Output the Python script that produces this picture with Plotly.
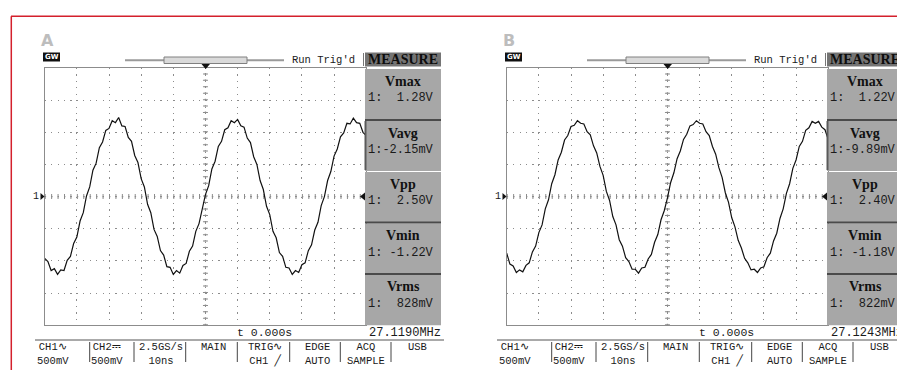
import plotly.graph_objects as go

W, H = 905, 370

# sample clock of the scope: 1 ns per point, 10 ns/div, trigger at the centre
t_ns = list(range(-50, 51))

# CH1 trace, volts (noise included)
ch1_a = [
    -0.96, -1.01, -1.15, -1.12, -1.21, -1.14, -1.15, -0.99, -0.93, -0.73,
    -0.63, -0.38, -0.25, 0.01, 0.15, 0.41, 0.52, 0.76, 0.85, 1.03,
    1.06, 1.18, 1.15, 1.23, 1.10, 1.09, 0.92, 0.86, 0.64, 0.53,
    0.28, 0.15, -0.12, -0.25, -0.51, -0.62, -0.84, -0.91, -1.09, -1.10,
    -1.21, -1.15, -1.19, -1.07, -1.04, -0.85, -0.77, -0.54, -0.42, -0.17,
    0.03, 0.17, 0.43, 0.55, 0.78, 0.86, 1.04, 1.07, 1.18, 1.15,
    1.20, 1.10, 1.08, 0.91, 0.84, 0.62, 0.50, 0.25, 0.11, -0.15,
    -0.28, -0.54, -0.64, -0.87, -0.93, -1.10, -1.11, -1.21, -1.15, -1.18,
    -1.06, -1.03, -0.84, -0.75, -0.52, -0.40, -0.14, 0.00, 0.25, 0.39,
    0.63, 0.74, 0.93, 0.99, 1.14, 1.13, 1.22, 1.15, 1.14, 1.00, 0.95,
]
ch1_b = [
    -0.88, -1.05, -1.08, -1.18, -1.14, -1.17, -1.07, -1.03, -0.86, -0.77,
    -0.56, -0.44, -0.19, -0.05, 0.20, 0.34, 0.57, 0.69, 0.88, 0.95,
    1.09, 1.11, 1.18, 1.14, 1.13, 1.01, 0.96, 0.79, 0.68, 0.47,
    0.33, 0.08, -0.06, -0.31, -0.44, -0.67, -0.77, -0.95, -1.01, -1.13,
    -1.13, -1.19, -1.11, -1.10, -0.97, -0.90, -0.71, -0.59, -0.36, -0.22,
    -0.02, 0.22, 0.37, 0.59, 0.71, 0.89, 0.97, 1.10, 1.12, 1.18,
    1.14, 1.13, 1.01, 0.95, 0.78, 0.66, 0.45, 0.30, 0.06, -0.09,
    -0.33, -0.47, -0.68, -0.80, -0.96, -1.03, -1.14, -1.13, -1.18, -1.11,
    -1.09, -0.95, -0.88, -0.69, -0.57, -0.34, -0.19, 0.05, 0.20, 0.44,
    0.57, 0.78, 0.86, 1.03, 1.07, 1.17, 1.14, 1.17, 1.08, 1.04, 0.89,
]

panel_names = ["A", "B"]
meas_names = ["Vmax", "Vavg", "Vpp", "Vmin", "Vrms"]
meas_a = ["1:  1.28V", "1:-2.15mV", "1:  2.50V", "1: -1.22V", "1:  828mV"]
meas_b = ["1:  1.22V", "1:-9.89mV", "1:  2.40V", "1: -1.18V", "1:  822mV"]
freq_text = ["27.1190MHz", "27.1243MHz"]
time_text = "t 0.000s"
menu_top = ["CH1\u223f", "CH2\u2393", "2.5GS/s", "MAIN", "TRIG\u223f", "EDGE", "ACQ", "USB"]
menu_bottom = ["500mV", "500mV", "10ns", "", "CH1 \u2571", "AUTO", "SAMPLE", ""]

MONO = "Liberation Mono, DejaVu Sans Mono, monospace"
SERIF = "Liberation Serif, DejaVu Serif, serif"
DIV = 32.15          # one graticule division in px
GX, GY = 36.7, 60.0  # top-left corner of panel A graticule
OFFSET = [0, 462]    # x shift of each screenshot
GRID = "#8c8c8c"

shapes, annos = [], []


def line(x0, y0, x1, y1, color, width=1, dash="solid"):
    shapes.append(dict(type="line", xref="x", yref="y", x0=x0, y0=y0, x1=x1, y1=y1,
                       line=dict(color=color, width=width, dash=dash), layer="above"))


def rect(x0, y0, x1, y1, fill, color=None, width=0):
    shapes.append(dict(type="rect", xref="x", yref="y", x0=x0, y0=y0, x1=x1, y1=y1,
                       fillcolor=fill, line=dict(color=color or fill, width=width), layer="above"))


def path(d, color):
    shapes.append(dict(type="path", xref="x", yref="y", path=d, fillcolor=color,
                       line=dict(color=color, width=0), layer="above"))


def text(x, y, s, size=11, family=MONO, color="#1a1a1a", xanchor="center"):
    annos.append(dict(x=x, y=y, xref="x", yref="y", text=s.replace(" ", "\u00a0"),
                      showarrow=False, xanchor=xanchor, yanchor="middle", align="center",
                      font=dict(size=size, family=family, color=color)))


fig = go.Figure()
# pixel canvas for the decorations
fig.add_scatter(x=[0], y=[0], mode="markers", marker=dict(opacity=0),
                hoverinfo="skip", showlegend=False)
layout_axes = dict(
    xaxis=dict(domain=[0, 1], range=[0, W], visible=False, fixedrange=True),
    yaxis=dict(domain=[0, 1], range=[H, 0], visible=False, fixedrange=True),
)

cy = GY + 4 * DIV
for i, (o, wave, meas) in enumerate(zip(OFFSET, [ch1_a, ch1_b], [meas_a, meas_b])):
    n = i + 2
    xa, ya = f"x{n}", f"y{n}"
    fig.add_scatter(x=t_ns, y=wave, xaxis=xa, yaxis=ya, mode="lines",
                    line=dict(color="#111111", width=1.2), hoverinfo="skip", showlegend=False)
    common = dict(showgrid=True, gridcolor=GRID, gridwidth=1.2, griddash="1.2px,5.23px",
                  showticklabels=False, ticks="", zeroline=False, showline=True, mirror=True,
                  linecolor=GRID, linewidth=1, fixedrange=True)
    layout_axes[f"xaxis{n}"] = dict(domain=[(GX + o) / W, (GX + o + 10 * DIV) / W],
                                    range=[-50, 50], anchor=ya, tick0=0, dtick=10, **common)
    layout_axes[f"yaxis{n}"] = dict(domain=[1 - (GY + 8 * DIV) / H, 1 - GY / H],
                                    range=[-2, 2], anchor=xa, tick0=0, dtick=0.5, **common)
    # centre cross with sub-division ticks
    for (x0, x1, y0, y1) in [(-50, 50, 0, 0), (0, 0, -2, 2)]:
        shapes.append(dict(type="line", xref=xa, yref=ya, x0=x0, x1=x1, y0=y0, y1=y1,
                           line=dict(color=GRID, width=1.4, dash="1.4px,5.03px"), layer="between"))
        shapes.append(dict(type="line", xref=xa, yref=ya, x0=x0, x1=x1, y0=y0, y1=y1,
                           line=dict(color=GRID, width=5, dash="1px,5.43px"), layer="between"))

    # header
    text(39 + o, 32, "<b>" + panel_names[i] + "</b>", size=16, family="DejaVu Sans", color="#bdbdbd")
    rect(35 + o, 44.5, 52 + o, 53.5, "#111111")
    text(43.5 + o, 49, "<b>GW</b>", size=7, family="DejaVu Sans", color="#ffffff")
    line(117 + o, 52.3, 276 + o, 52.3, "#9a9a9a", 2)
    rect(156 + o, 49, 239 + o, 55.5, "#dadada", "#808080", 1)
    text(282 + o, 52, "Run Trig'd", size=10.5, xanchor="left")
    line(355.5 + o, 45, 355.5 + o, 58, "#777777", 1)
    rect(357 + o, 44.5, 433 + o, 58.5, "#747474")
    text(395 + o, 51.5, "<b>MEASURE</b>", size=14, family=SERIF, color="#0d0d0d")
    path(f"M{193.5 + o},56 L{202 + o},56 L{197.7 + o},61 Z", "#111111")

    # channel / trigger level markers
    text(28 + o, cy, "1", size=10)
    path(f"M{32.5 + o},{cy - 3.5} L{36.5 + o},{cy} L{32.5 + o},{cy + 3.5} Z", "#111111")
    path(f"M{357 + o},{cy - 4} L{352 + o},{cy} L{357 + o},{cy + 4} Z", "#111111")

    # measure soft keys
    tops = [61, 113, 164, 215.5, 266.5]
    for k, top in enumerate(tops):
        rect(357 + o, top, 433 + o, top + 50 if k < 4 else GY + 8 * DIV, "#a7a7a7")
        text(395 + o, top + 12, "<b>" + meas_names[k] + "</b>", size=14, family=SERIF, color="#111111")
        text(357.5 + o, top + 29, meas[k], size=12, xanchor="left")
    for y in [112, 214.5, 266]:
        line(357 + o, y, 433 + o, y, "#4a4a4a", 2)
    line(357.5 + o, 113, 357.5 + o, 162, "#5a5a5a", 2)

    # status line
    text(256 + o, 324, time_text, size=11.5)
    text(435 + o, 324.5, freq_text[i], size=12, xanchor="right")
    line(27 + o, 332, 436 + o, 332, "#555555", 1)

    # bottom menu
    seps = [81.7, 126, 177.7, 229.3, 281.7, 332.3, 383]
    for s in seps:
        line(s + o, 334, s + o, 354, "#444444", 1)
    col_cx = [45, 98.5, 153, 205, 257, 309, 358, 409]
    for k in range(len(menu_top)):
        if menu_bottom[k]:
            text(col_cx[k] + o, 345.5, menu_top[k] + "<br>" + menu_bottom[k], size=10.5)
        else:
            text(col_cx[k] + o, 339, menu_top[k], size=10.5)

# red frame of the figure
line(3, 8.3, W, 8.3, "#d4202c", 1.5)
line(3.3, 8.3, 3.3, H, "#d4202c", 1.5)

fig.update_layout(
    width=W, height=H, margin=dict(l=0, r=0, t=0, b=0),
    paper_bgcolor="white", plot_bgcolor="rgba(0,0,0,0)",
    showlegend=False, shapes=shapes, annotations=annos, **layout_axes,
)
fig.write_html("out.html")
